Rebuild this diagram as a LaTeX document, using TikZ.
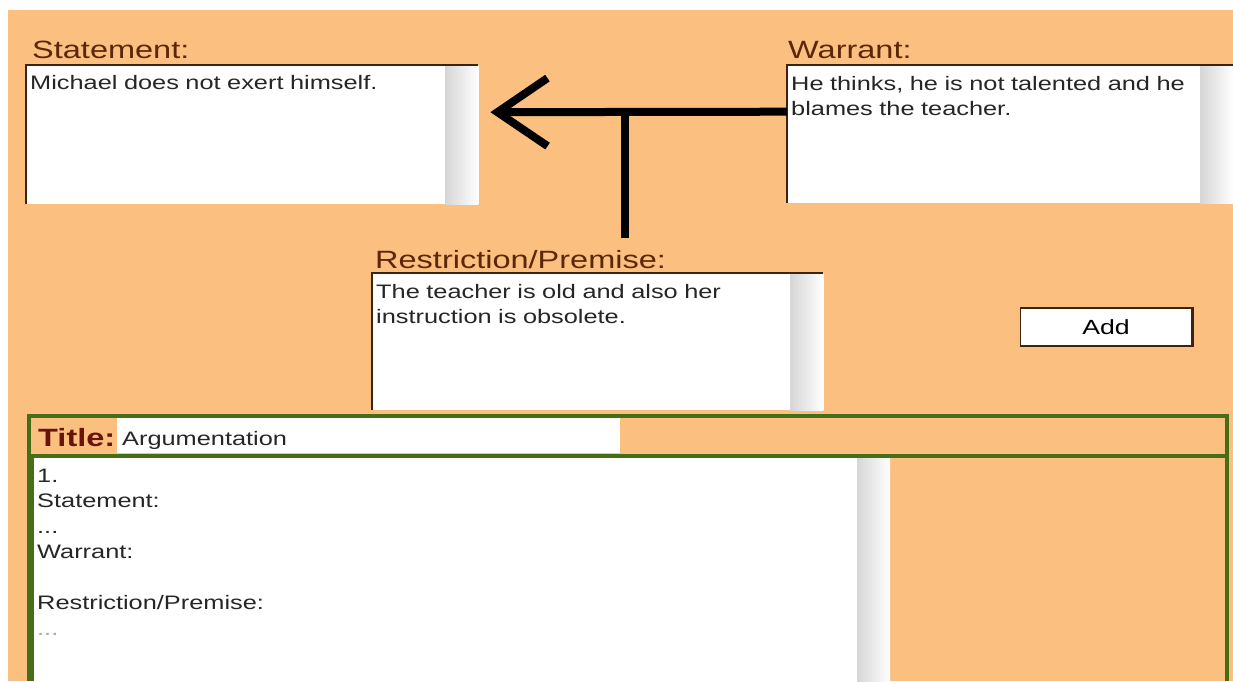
\documentclass[tikz,border=0pt]{standalone}
\usepackage{fontspec}
\setmainfont{Liberation Sans}[FakeStretch=1.3]
\usetikzlibrary{arrows.meta}
\definecolor{bgorange}{RGB}{251,191,128}
\definecolor{lblbrown}{RGB}{92,38,8}
\definecolor{framegreen}{RGB}{70,110,22}
\definecolor{titlered}{RGB}{105,20,8}
\definecolor{boxedge}{RGB}{60,35,18}
\tikzset{
  lbl/.style={anchor=base west,inner sep=0pt,text=lblbrown,font=\fontsize{25}{30}\selectfont},
  txt/.style={anchor=base west,inner sep=0pt,text=black!85,font=\fontsize{19.5}{25.5}\selectfont,align=left,text width=#1},
  txt/.default=400pt,
  inputbox/.style={anchor=north west,fill=white,draw=none,inner sep=0pt},
  scroll/.style={left color=black!16,right color=white},
  conn/.style={line width=8pt,black},
  addbtn/.style={fill=white,draw=boxedge,line width=1.6pt,minimum width=171pt,minimum height=38pt,inner sep=0pt,font=\fontsize{20.5}{24}\selectfont}
}
\begin{document}
\begin{tikzpicture}[x=1pt,y=-1pt]
\useasboundingbox (0,0) rectangle (1233,681);
\fill[white] (0,0) rectangle (1233,681);
\fill[bgorange] (8,10) rectangle (1233,681);

% labels
\node[lbl] (stmtLbl) at (32,58) {Statement:};
\node[lbl] (warLbl) at (788,58) {Warrant:};
\node[lbl] (resLbl) at (375,268) {Restriction/Premise:};

% statement box
\node[inputbox,minimum width=452pt,minimum height=139pt] (stmt) at (26,65) {};
\shade[scroll] ([xshift=-33pt]stmt.north east) rectangle (stmt.south east);
\draw[boxedge,line width=2pt] (stmt.south west) -- (stmt.north west) -- (stmt.north east);
\node[txt=400pt] (stmtTxt) at (30,89) {Michael does not exert himself.};

% warrant box
\node[inputbox,minimum width=446pt,minimum height=138pt] (war) at (787,65) {};
\shade[scroll] ([xshift=-33pt]war.north east) rectangle (war.south east);
\draw[boxedge,line width=2pt] (war.south west) -- (war.north west) -- (war.north east);
\node[txt=405pt] (warTxt) at (791,90) {He thinks, he is not talented and he\\blames the teacher.};

% restriction box
\node[inputbox,minimum width=451pt,minimum height=137pt] (res) at (372,273) {};
\shade[scroll] ([xshift=-33pt]res.north east) rectangle (res.south east);
\draw[boxedge,line width=2pt] (res.south west) -- (res.north west) -- (res.north east);
\node[txt=410pt] (resTxt) at (376,298) {The teacher is old and also her\\instruction is obsolete.};

% add button
\node[addbtn] (add) at (1106,327) {Add};
\draw[boxedge,line width=3pt] (add.north east) -- (add.south east);

% connectors
\coordinate (junction) at (625,112);
\coordinate (tail) at (625,238);
\draw[conn,-{Straight Barb[length=50pt,width=68pt,line width=8pt]},shorten >=12pt]
  ([yshift=22.5pt]war.west) -- ([yshift=22.5pt]stmt.east);
\draw[conn] (junction) -- (tail);

% bottom panel
\fill[white] (117,418) rectangle (620,453);
\node[anchor=base west,inner sep=0pt,text=titlered,font=\bfseries\fontsize{25}{30}\selectfont] (titleLbl) at (38,446) {Title:};
\node[anchor=base west,inner sep=0pt,text=black!85,font=\fontsize{19.5}{25.5}\selectfont] (titleTxt) at (122,445) {Argumentation};

\fill[white] (32,458) rectangle (890,681);
\shade[scroll] (857,458) rectangle (890,681);
\node[txt=600pt] (listTxt) at (37,482) {1.\\Statement:\\...\\Warrant:\\\mbox{}\\Restriction/Premise:\\\textcolor{black!35}{...}};

\draw[framegreen,line width=4pt] (29,681) -- (29,416) -- (1227,416) -- (1227,681);
\draw[framegreen,line width=4pt] (29,456) -- (1227,456);
\draw[framegreen,line width=5pt] (31,456) -- (31,681);
\end{tikzpicture}
\end{document}
